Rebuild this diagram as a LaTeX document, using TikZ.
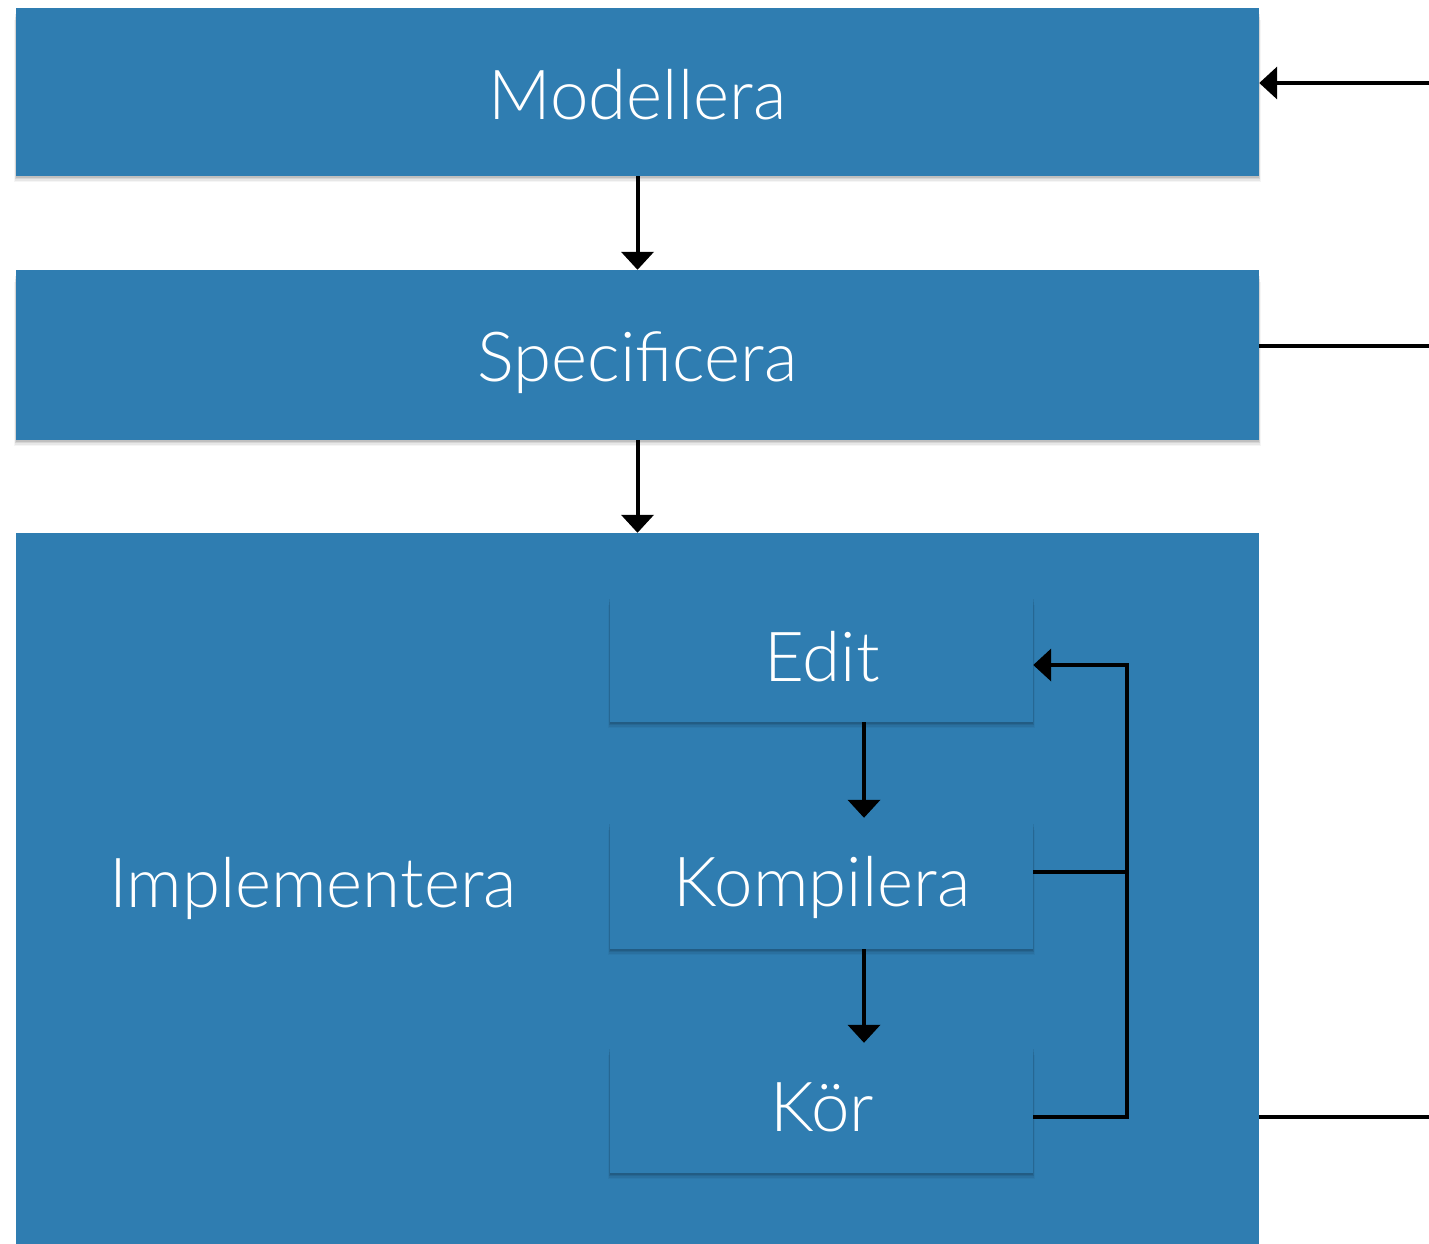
\documentclass[tikz,border=0pt]{standalone}
\usepackage{fontspec}
\setmainfont{Lato}[UprightFont=* Light]
\usetikzlibrary{arrows.meta,calc}
\definecolor{paneblue}{RGB}{47,125,177}
\tikzset{
  pane/.style={fill=paneblue, draw=none},
  panetext/.style={text=white, font=\fontsize{69}{77}\selectfont, inner sep=0pt, anchor=base},
  boxnode/.style={inner sep=0pt, draw=none},
  flow/.style={line width=4pt, -{Triangle[width=32pt,length=18pt]}},
  link/.style={line width=4pt}
}
% soft shadow under a pane: #1 = lower-left, #2 = upper-right corner
\newcommand{\softshade}[2]{%
  \foreach \s/\o in {6/0.04,4.5/0.06,3/0.08,1.5/0.10}{%
    \fill[black, opacity=\o] ($(#1)+(-\s*0.3,\s)$) rectangle ($(#2)+(\s*0.3,\s*2)$);}%
}
\begin{document}
\begin{tikzpicture}[x=1pt,y=-1pt]
\useasboundingbox (0,0) rectangle (1429,1243);
\clip (0,0) rectangle (1429,1243);
% outer stages
\softshade{16,176}{1259,8}
\fill[pane] (16,8) rectangle (1259,176);
\softshade{16,440}{1259,270}
\fill[pane] (16,270) rectangle (1259,440);
\fill[pane] (16,533) rectangle (1259,1300);
\node[boxnode, minimum width=1243pt, minimum height=168pt] (Mbox) at (637.5,92) {};
\node[boxnode, minimum width=1243pt, minimum height=170pt] (Sbox) at (637.5,355) {};
\node[boxnode, minimum width=1243pt, minimum height=767pt] (Ibox) at (637.5,916.5) {};
\node[panetext] (mod) at (637.5,119) {Modellera};
\node[panetext] (spec) at (637.5,381) {Specificera};
\node[panetext] (impl) at (313,907) {Implementera};
% inner cycle
\softshade{610,722}{1033,593}
\fill[pane] (610,593) rectangle (1033,722);
\softshade{610,949}{1033,818}
\fill[pane] (610,818) rectangle (1033,949);
\softshade{610,1173}{1033,1043}
\fill[pane] (610,1043) rectangle (1033,1173);
\node[boxnode, minimum width=423pt, minimum height=129pt] (edit) at (821.5,657.5) {};
\node[boxnode, minimum width=423pt, minimum height=131pt] (komp) at (821.5,883.5) {};
\node[boxnode, minimum width=423pt, minimum height=130pt] (kor) at (821.5,1108) {};
\node[panetext] (tedit) at (822,681) {Edit};
\node[panetext] (tkomp) at (822,906) {Kompilera};
\node[panetext] (tkor) at (822,1131) {Kör};
% connectors
\draw[flow] (Mbox.south) -- (Sbox.north);
\draw[flow] (Sbox.south) -- (Ibox.north);
\draw[flow] (edit.south -| 864,0) -- (komp.north -| 864,0);
\draw[flow] (komp.south -| 864,0) -- (kor.north -| 864,0);
\coordinate (loopx) at (1127,0);
\draw[link] (komp.east |- 0,872) -- (loopx |- 0,872);
\draw[flow] (kor.east |- 0,1117) -| (loopx |- 0,665) -- (edit.east |- 0,665);
\coordinate (inM) at (1429,83);
\coordinate (outS) at (1429,346);
\coordinate (outK) at (1429,1117);
\draw[flow] (inM) -- (Mbox.east |- inM);
\draw[link] (Sbox.east |- outS) -- (outS);
\draw[link] (Ibox.east |- outK) -- (outK);
\end{tikzpicture}
\end{document}
